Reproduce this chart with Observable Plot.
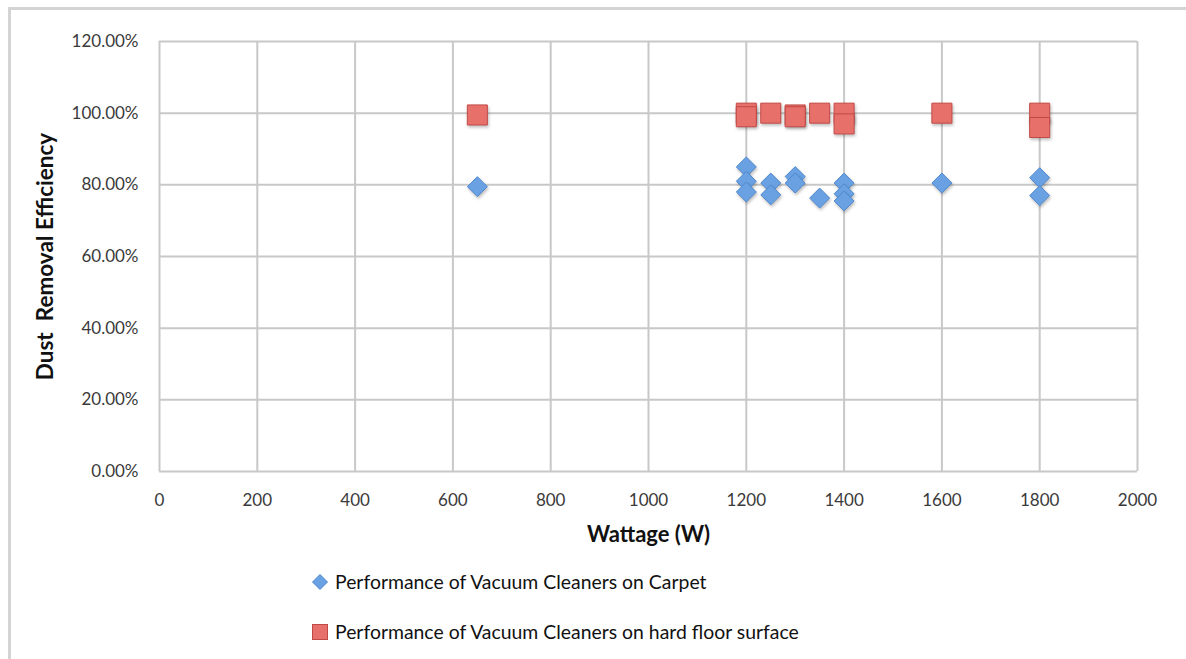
<!DOCTYPE html>
<html><head><meta charset="utf-8">
<script src="https://cdn.jsdelivr.net/npm/d3@7"></script>
<script src="https://cdn.jsdelivr.net/npm/@observablehq/plot@0.6"></script>
<style>
body{margin:0;overflow:hidden;background:#fff;font-family:Lato,"Open Sans",sans-serif;}
#wrap{position:relative;width:1186px;height:659px;overflow:hidden;background:#fff}
#border{position:absolute;left:8px;top:7px;right:-10px;bottom:-10px;border:3px solid #d4d4d4}
#chart{position:absolute;left:0;top:0}
.leg{position:absolute;left:311px;font-size:19.4px;line-height:24px;color:#111;display:flex;align-items:center;white-space:nowrap}
.leg svg{margin-right:6px}
#chart svg g[aria-label="dot"] path{filter:drop-shadow(1px 2px 1.5px rgba(0,0,0,0.25))}
</style></head>
<body>
<div id="wrap">
  <div id="border"></div>
  <div id="chart"></div>
  <div class="leg" style="top:570px"><svg width="18" height="18" viewBox="-9 -9 18 18"><path d="M0,-7.5L7.5,0L0,7.5L-7.5,0Z" fill="#6aa1e2" stroke="#4f88cc"/></svg><span>Performance of Vacuum Cleaners on Carpet</span></div>
  <div class="leg" style="top:620px"><svg width="18" height="18" viewBox="-9 -9 18 18"><rect x="-7.5" y="-7.5" width="15" height="15" fill="#e8706b" stroke="#c24a46"/></svg><span>Performance of Vacuum Cleaners on hard floor surface</span></div>
</div>
<script>
const xTicks = [0,200,400,600,800,1000,1200,1400,1600,1800,2000];
const yTicks = [0,0.2,0.4,0.6,0.8,1.0,1.2];
const xLabel = "Wattage (W)";
const yLabel = "Dust  Removal Efficiency";

const carpetW   = [650,1200,1200,1200,1250,1250,1300,1300,1350,1400,1400,1400,1600,1800,1800];
const carpetEff = [0.795,0.85,0.81,0.78,0.805,0.772,0.823,0.805,0.763,0.805,0.775,0.755,0.805,0.82,0.77];
const hardW     = [650,1200,1200,1250,1300,1300,1350,1400,1400,1600,1800,1800];
const hardEff   = [0.995,1.0,0.99,1.0,0.995,0.99,1.0,1.0,0.97,1.0,1.0,0.96];

const carpet = carpetW.map((w,i)=>({w, e: carpetEff[i]}));
const hard = hardW.map((w,i)=>({w, e: hardEff[i]}));

const grid = {stroke:"#c8c8c8", strokeOpacity:1, strokeWidth:2};

const chart = Plot.plot({
  width: 1186,
  height: 560,
  marginTop: 41,
  marginBottom: 89,
  marginLeft: 159,
  marginRight: 49,
  style: {fontFamily: "Lato, 'Open Sans', sans-serif", fontSize: "17px", color: "#3a3a3a", background: "transparent", whiteSpace: "pre", overflow: "visible"},
  x: {domain: [0, 2000]},
  y: {domain: [0, 1.2]},
  marks: [
    Plot.gridX(xTicks, grid),
    Plot.gridY(yTicks, grid),
    Plot.axisX(xTicks, {tickSize: 0, tickPadding: 22, label: null, tickFormat: d3.format("d")}),
    Plot.axisY(yTicks, {tickSize: 0, tickPadding: 21, label: null, tickFormat: d3.format(".2%")}),
    Plot.text([xLabel], {frameAnchor: "bottom", lineAnchor: "middle", textAnchor: "middle", dy: 63, text: d => d, fontWeight: "bold", fontSize: 22, fill: "#111"}),
    Plot.text([yLabel], {frameAnchor: "left", textAnchor: "middle", lineAnchor: "middle", dx: -114, rotate: -90, text: d => d, fontWeight: "bold", fontSize: 22.5, fill: "#111"}),
    Plot.dot(carpet, {x: "w", y: "e", symbol: "diamond2", r: 9, fill: "#6aa1e2", stroke: "#4f88cc", strokeWidth: 1}),
    Plot.dot(hard, {x: "w", y: "e", symbol: "square", r: 11.3, fill: "#e8706b", stroke: "#c24a46", strokeWidth: 1})
  ]
});
document.getElementById("chart").appendChild(chart);
</script>
</body></html>
